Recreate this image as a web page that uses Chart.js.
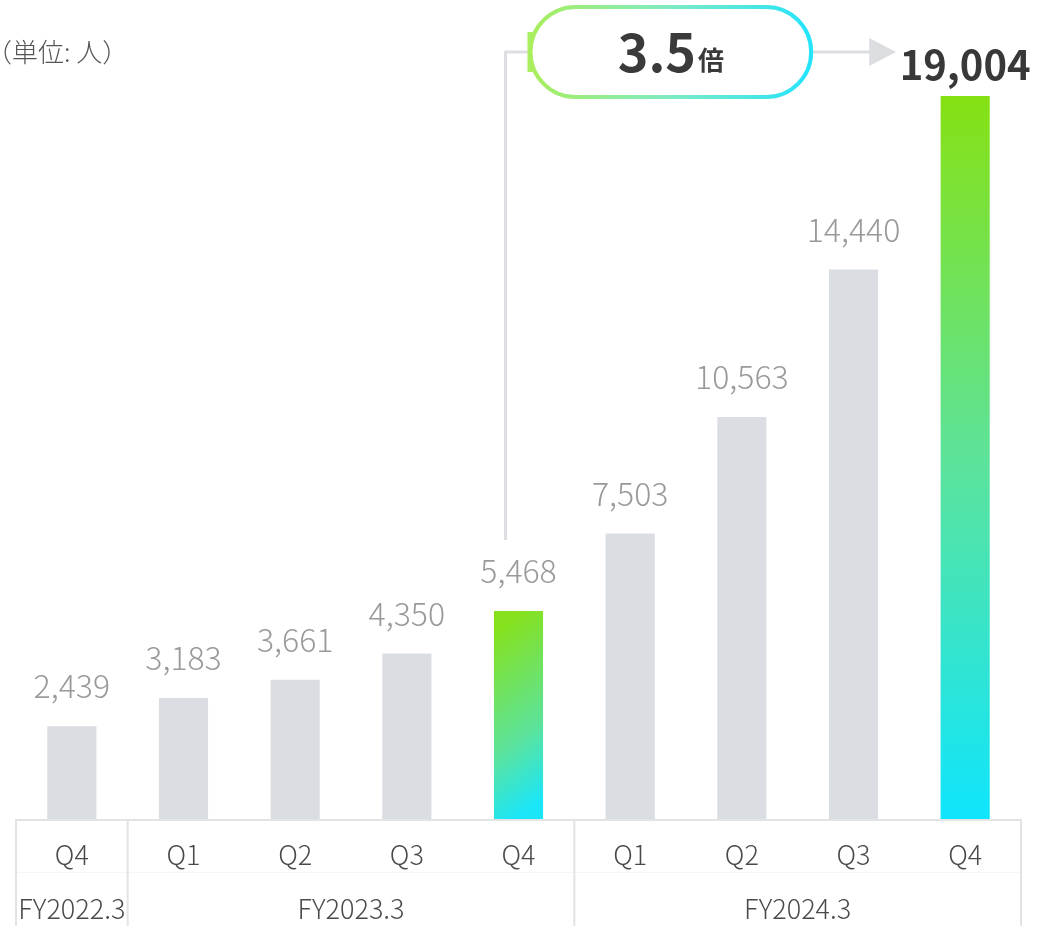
<!DOCTYPE html>
<html lang="ja">
<head>
<meta charset="utf-8">
<title>ユーザー数推移</title>
<script src="https://cdn.jsdelivr.net/npm/chart.js@4"></script>
<style>
    html, body { margin: 0; padding: 0; background: #ffffff; }
    #chartBox { width: 1038px; height: 926px; position: relative; }
</style>
</head>
<body>
<div id="chartBox"><canvas id="usersChart" width="1038" height="926"></canvas></div>
<script>
// Data
const quarters = ['Q4', 'Q1', 'Q2', 'Q3', 'Q4', 'Q1', 'Q2', 'Q3', 'Q4'];
const fiscalYears = ['FY2022.3', 'FY2023.3', 'FY2024.3'];
const yearSpans = [1, 4, 4];
const userCounts = [2439, 3183, 3661, 4350, 5468, 7503, 10563, 14440, 19004];
const growthMultiple = '3.5';
const unitLabel = '（単位: 人）';

const FONT = '"Noto Sans CJK JP", "Noto Sans", sans-serif';
const GRAY_BAR = '#dadde1';
const LINE_GRAY = '#dcdee2';
const BORDER_GRAY = '#e2e3e5';

// Bar fill: highlighted bars get a green -> cyan gradient
function barColor(context) {
    const chart = context.chart;
    const i = context.dataIndex;
    const area = chart.chartArea;
    if (!area) return GRAY_BAR;
    const last = userCounts.length - 1;
    const xs = chart.scales.x;
    const ys = chart.scales.y;
    if (i === last) {
        const top = ys.getPixelForValue(userCounts[i]);
        const g = chart.ctx.createLinearGradient(0, top, 0, area.bottom);
        g.addColorStop(0, '#86e113');
        g.addColorStop(0.5, '#5de39a');
        g.addColorStop(1, '#0fe5fd');
        return g;
    }
    if (i === 4) {
        const cx = xs.getPixelForValue(i);
        const top = ys.getPixelForValue(userCounts[i]);
        const g = chart.ctx.createLinearGradient(cx - 60, top + 20, cx + 60, area.bottom - 20);
        g.addColorStop(0.1, '#86e11c');
        g.addColorStop(0.6, '#5ce39c');
        g.addColorStop(0.9, '#1be6f8');
        return g;
    }
    return GRAY_BAR;
}

function roundRectPath(ctx, x, y, w, h, r) {
    ctx.beginPath();
    ctx.moveTo(x + r, y);
    ctx.lineTo(x + w - r, y);
    ctx.arc(x + w - r, y + r, r, -Math.PI / 2, Math.PI / 2);
    ctx.lineTo(x + r, y + h);
    ctx.arc(x + r, y + r, r, Math.PI / 2, Math.PI * 1.5);
    ctx.closePath();
}

// Labels, category table and the growth annotation
const decorPlugin = {
    id: 'decor',
    afterDatasetsDraw(chart) {
        const ctx = chart.ctx;
        const area = chart.chartArea;
        const xs = chart.scales.x;
        const meta = chart.getDatasetMeta(0);
        const last = userCounts.length - 1;
        const step = xs.getPixelForValue(1) - xs.getPixelForValue(0);
        const left = xs.getPixelForValue(0) - step / 2;
        const right = xs.getPixelForValue(last) + step / 2;
        const bottom = chart.height;

        ctx.save();

        // unit label
        ctx.font = '300 26px ' + FONT;
        ctx.fillStyle = '#555555';
        ctx.textAlign = 'left';
        ctx.textBaseline = 'middle';
        ctx.fillText(unitLabel, -14, 52);

        // value labels
        ctx.textAlign = 'center';
        ctx.textBaseline = 'middle';
        meta.data.forEach((bar, i) => {
            const txt = userCounts[i].toLocaleString('en-US');
            if (i === last) {
                ctx.font = 'bold 40px ' + FONT;
                ctx.fillStyle = '#383838';
                ctx.fillText(txt, bar.x, bar.y - 31);
            } else {
                ctx.font = '300 32px ' + FONT;
                ctx.fillStyle = '#9a9a9a';
                ctx.fillText(txt, bar.x, bar.y - 40);
            }
        });

        // category table
        ctx.strokeStyle = BORDER_GRAY;
        ctx.lineWidth = 2;
        ctx.beginPath();
        ctx.moveTo(left, area.bottom + 1);
        ctx.lineTo(right, area.bottom + 1);
        ctx.stroke();
        ctx.strokeStyle = '#f4f5f6';
        ctx.lineWidth = 1;
        ctx.beginPath();
        ctx.moveTo(left, area.bottom + 53.5);
        ctx.lineTo(right, area.bottom + 53.5);
        ctx.stroke();

        ctx.strokeStyle = BORDER_GRAY;
        ctx.lineWidth = 2;
        let start = 0;
        const edges = [left];
        yearSpans.forEach(n => {
            start += n;
            edges.push(xs.getPixelForValue(start - 1) + step / 2);
        });
        edges.forEach(x => {
            ctx.beginPath();
            ctx.moveTo(x, area.bottom);
            ctx.lineTo(x, bottom);
            ctx.stroke();
        });

        ctx.font = '300 27px ' + FONT;
        ctx.fillStyle = '#4a4a4a';
        quarters.forEach((q, i) => {
            ctx.fillText(q, xs.getPixelForValue(i), area.bottom + 36);
        });
        start = 0;
        fiscalYears.forEach((fy, k) => {
            const a = xs.getPixelForValue(start) - step / 2;
            const b = xs.getPixelForValue(start + yearSpans[k] - 1) + step / 2;
            ctx.fillText(fy, (a + b) / 2, area.bottom + 90);
            start += yearSpans[k];
        });

        // growth annotation: connector from Q4 FY2023.3 to Q4 FY2024.3
        const from = meta.data[4];
        const to = meta.data[last];
        const lineX = from.x - 13;
        const lineY = 52;
        const pillL = from.x + 12;
        const pillR = to.x - 154;
        const arrowTip = to.x - 69;

        ctx.strokeStyle = LINE_GRAY;
        ctx.lineWidth = 3;
        ctx.beginPath();
        ctx.moveTo(lineX, from.y - 71);
        ctx.lineTo(lineX, lineY);
        ctx.lineTo(pillL, lineY);
        ctx.moveTo(pillR, lineY);
        ctx.lineTo(arrowTip - 24, lineY);
        ctx.stroke();
        ctx.fillStyle = LINE_GRAY;
        ctx.beginPath();
        ctx.moveTo(arrowTip, lineY);
        ctx.lineTo(arrowTip - 27, lineY - 14);
        ctx.lineTo(arrowTip - 27, lineY + 14);
        ctx.closePath();
        ctx.fill();

        ctx.fillStyle = '#a8ee5e';
        ctx.fillRect(pillL - 3, lineY - 20, 6, 40);

        const pg = ctx.createLinearGradient(pillL, 0, pillR, 0);
        pg.addColorStop(0, '#a9ee5c');
        pg.addColorStop(0.5, '#7deac4');
        pg.addColorStop(1, '#24e4fb');
        roundRectPath(ctx, pillL, 7, pillR - pillL, 90, 45);
        ctx.fillStyle = '#ffffff';
        ctx.fill();
        ctx.strokeStyle = pg;
        ctx.lineWidth = 4;
        ctx.stroke();

        ctx.fillStyle = '#3a3a3a';
        ctx.textBaseline = 'alphabetic';
        ctx.font = 'bold 52px ' + FONT;
        const w1 = ctx.measureText(growthMultiple).width;
        ctx.font = 'bold 26px ' + FONT;
        const w2 = ctx.measureText('倍').width;
        const tx = (pillL + pillR) / 2 - (w1 + w2 + 2) / 2;
        ctx.textAlign = 'left';
        ctx.font = 'bold 52px ' + FONT;
        ctx.fillText(growthMultiple, tx, 72);
        ctx.font = 'bold 26px ' + FONT;
        ctx.fillText('倍', tx + w1 + 2, 70);

        ctx.restore();
    }
};

const ctx = document.getElementById('usersChart').getContext('2d');
new Chart(ctx, {
    type: 'bar',
    data: {
        labels: quarters,
        datasets: [{
            data: userCounts,
            backgroundColor: barColor,
            borderWidth: 0,
            barPercentage: 0.44,
            categoryPercentage: 1
        }]
    },
    options: {
        responsive: false,
        animation: false,
        layout: {
            padding: { top: 20, left: 16, right: 17, bottom: 107 }
        },
        plugins: {
            legend: { display: false },
            tooltip: { enabled: false }
        },
        scales: {
            x: { display: false },
            y: { display: false, min: 0, max: 21000 }
        }
    },
    plugins: [decorPlugin]
});
</script>
</body>
</html>
